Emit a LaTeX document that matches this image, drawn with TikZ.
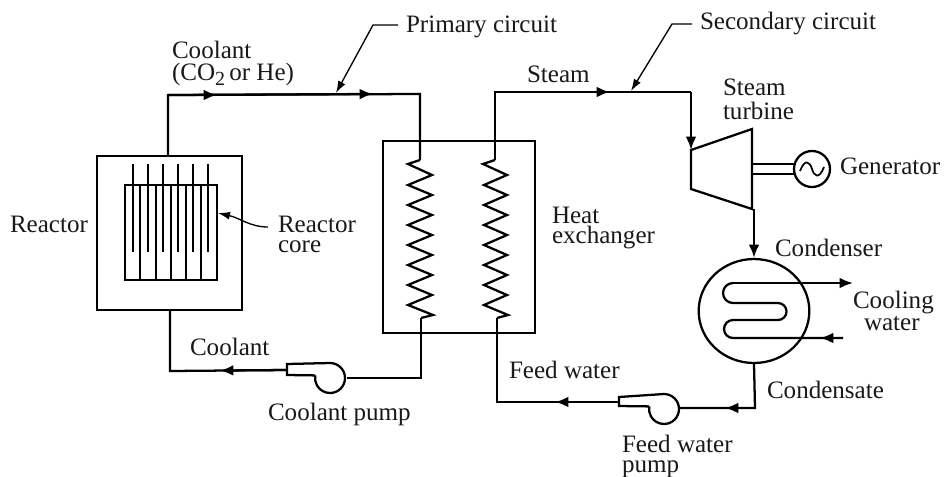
\documentclass[tikz,border=0pt]{standalone}
\usepackage{fontspec}
\setmainfont{Liberation Serif}
\usetikzlibrary{arrows.meta,shapes.geometric}
\tikzset{
  x=0.75pt,y=-0.75pt,
  pipe/.style={line width=1.7pt,line join=miter},
  thin pipe/.style={line width=1.3pt},
  lbl/.style={anchor=base west,inner sep=0pt,outer sep=0pt,font=\fontsize{18.8}{16}\selectfont,text=black!90},
  flowtip/.tip={Latex[length=10pt,width=8pt]},
  leader/.style={line width=1pt},
  tip/.style={-{Latex[length=9pt,width=6pt]}},
}
\begin{document}
\begin{tikzpicture}
\useasboundingbox (0,0) rectangle (945,476);
% reactor
\node[draw,pipe,minimum width=108.75pt,minimum height=115.5pt,inner sep=0pt] (reactor) at (169.5,233) {};
\node[draw,pipe,minimum width=69pt,minimum height=71.25pt,inner sep=0pt] (core) at (171,232.5) {};
\foreach \x in {133,148,163,178,193,208} \draw[line width=2pt] (\x,164) -- (\x,252);
\foreach \x in {140,156,171,186,201} \draw[pipe] (\x,185) -- (\x,280);
% heat exchanger
\node[draw,pipe,minimum width=114pt,minimum height=144pt,inner sep=0pt] (hx) at (459,237) {};
% primary circuit
\coordinate (a1) at (168,95);
\coordinate (a2) at (420,94);
\coordinate (c1t) at (420,160);
\coordinate (c1b) at (421,318);
\coordinate (c2t) at (495,160);
\coordinate (c2b) at (497,318);
\draw[pipe] (reactor.north -| a1) -- (a1) -- (a2) -- (c1t);
\draw[pipe,-flowtip] (a1) -- (217,95);
\draw[pipe,-flowtip] (a1) -- (373,94);
\draw[pipe] (c1t) -- (408,164)
  \foreach \i in {0,...,6} { -- (432,{175+20*\i}) -- (408,{185+20*\i}) } -- (433,315) -- (c1b);
\draw[pipe] (c2t) -- (483,164)
  \foreach \i in {0,...,6} { -- (507,{175+20*\i}) -- (484,{185+20*\i}) } -- (508,315) -- (c2b);
% coolant pump
\coordinate (cpi) at (347,378);
\coordinate (cpo) at (287,370);
\draw[pipe] (315.2,375.4) -- (287,375) -- (287,364) -- (330,363) arc[start angle=-90,end angle=190,radius=15];
\draw[pipe] (c1b) -- (421,378) -- (cpi);
\draw[pipe] (cpo) -- (170,371) -- (reactor.south -| 170,0);
\draw[pipe,-flowtip] (cpo) -- (220,370.5);
% steam
\coordinate (st1) at (495,92);
\coordinate (st2) at (691,92);
\coordinate (tin) at (691,150);
\draw[pipe] (c2t) -- (st1) -- (st2);
\draw[pipe,-flowtip] (st1) -- (610,92);
\draw[pipe,-flowtip] (st2) -- (tin);
% turbine
\draw[pipe] (tin) -- (752,129) -- (752,209) -- (691,189) -- cycle;
% generator
\node[draw,pipe,circle,minimum size=27pt,inner sep=0pt] (gen) at (812,169) {};
\draw[thin pipe] (752,164) -- (795,164);
\draw[thin pipe] (752,174) -- (795,174);
\draw[thin pipe] (800,171) .. controls (805,158) and (810,162) .. (812,169) .. controls (814,176) and (819,180) .. (824,167);
% condenser
\node[draw,pipe,ellipse,minimum width=83pt,minimum height=78pt,inner sep=0pt] (cond) at (754,311) {};
\draw[pipe,-flowtip] (cond.north |- 0,209) -- (cond.north);
\draw[pipe,-flowtip] (733,283) -- (853,283);
\draw[pipe] (733,283) arc[start angle=-90,end angle=-270,radius=10] -- (778,303) arc[start angle=-90,end angle=90,radius=8.5] -- (733,320) arc[start angle=-90,end angle=-270,radius=9] -- (843,338);
\draw[pipe,-flowtip] (843,338) -- (820,338);
% feed water
\coordinate (fpi) at (679,408);
\coordinate (fpo) at (619,402);
\draw[pipe] (649.2,406.4) -- (619,406) -- (619,397) -- (664,394) arc[start angle=-90,end angle=190,radius=15];
\draw[pipe] (cond.south) -- (755,408) -- (fpi);
\draw[pipe,-flowtip] (755,408) -- (725,408);
\draw[pipe] (fpo) -- (497,402) -- (c2b);
\draw[pipe,-flowtip] (fpo) -- (555,402);
% leaders
\draw[leader,tip] (268,227) .. controls (250,227) and (240,218) .. (218,213);
\draw[leader,tip] (398,25) -- (373,25) -- (336,93);
\draw[leader,tip] (692,24) -- (672,24) -- (631,91);
% labels
\node[lbl] (l1) at (172,58) {Coolant};
\node[lbl] (l2) at (172,80) {(CO\raisebox{-3.75pt}{\fontsize{15}{15}\selectfont 2}\,or He)};
\node[lbl] (l3) at (406,32) {Primary circuit};
\node[lbl] (l4) at (700,29) {Secondary circuit};
\node[lbl] (l5) at (527,82) {Steam};
\node[lbl] (l6) at (723,95) {Steam};
\node[lbl] (l7) at (723,119) {turbine};
\node[lbl] (l8) at (840,174) {Generator};
\node[lbl] (l9) at (10,232) {Reactor};
\node[lbl] (l10) at (278,232) {Reactor};
\node[lbl] (l11) at (278,252) {core};
\node[lbl] (l12) at (552,223) {Heat};
\node[lbl] (l13) at (552,243) {exchanger};
\node[lbl] (l14) at (190,355) {Coolant};
\node[lbl] (l15) at (268,420) {Coolant pump};
\node[lbl] (l16) at (509,378) {Feed water};
\node[lbl] (l17) at (775,256) {Condenser};
\node[lbl] (l18) at (853,308) {Cooling};
\node[lbl] (l19) at (864,330) {water};
\node[lbl] (l20) at (767,398) {Condensate};
\node[lbl] (l21) at (622,452) {Feed water};
\node[lbl] (l22) at (622,472) {pump};
\end{tikzpicture}
\end{document}
